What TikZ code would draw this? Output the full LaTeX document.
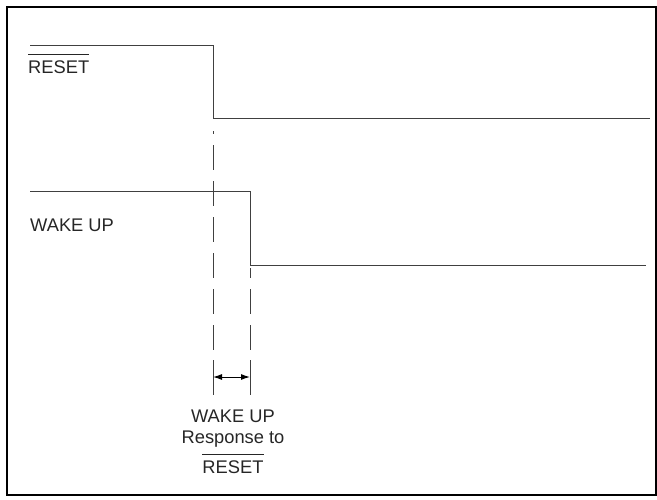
\documentclass[tikz,border=0pt]{standalone}
\usepackage{fontspec}
\setmainfont{Liberation Sans}
\usetikzlibrary{arrows.meta}
\tikzstyle{frame} = [line width=2pt, draw=black]
\tikzstyle{signal} = [line width=1pt, draw=black!75]
\tikzstyle{guide} = [line width=1pt, draw=black!75, dash pattern=on 25pt off 11pt]
\tikzstyle{extline} = [line width=1pt, draw=black!75]
\tikzstyle{siglabel} = [font=\fontsize{18.3}{21}\selectfont, inner sep=0pt, text=black!85]
\tikzstyle{arrow} = [line width=1pt, {Latex[length=9pt,width=6pt]}-{Latex[length=9pt,width=6pt]}]
\newcommand{\barred}[1]{\vbox{\hrule height 0.8pt\kern 5.5pt\hbox{#1}}}

\begin{document}
\begin{tikzpicture}[x=1pt, y=-1pt]

\useasboundingbox (0,0) rectangle (657,499);
\draw [frame] (7,7) rectangle (655.5,494.5);

% RESET
\coordinate (rst1) at (30,45);
\coordinate (rst2) at (213,45);
\coordinate (rst3) at (213,118);
\coordinate (rst4) at (650,118);
\draw [signal] (rst1) -- (rst2) -- (rst3) -- (rst4);
\node (rstlabel) [siglabel, anchor=base west] at (28,73) {\barred{RESET}};

% WAKE UP
\coordinate (wk1) at (30,191);
\coordinate (wk2) at (250,191);
\coordinate (wk3) at (250,265);
\coordinate (wk4) at (646,265);
\draw [signal] (wk1) -- (wk2) -- (wk3) -- (wk4);
\node (wklabel) [siglabel, anchor=base west] at (30,231) {WAKE UP};

% response time
\draw [guide, dash phase=22pt] (213,131) -- (213,350);
\draw [guide, dash phase=15pt] (250,268) -- (250,350);
\coordinate (dimA) at (213,377);
\coordinate (dimB) at (250,377);
\draw [extline] (213,360) -- (213,395);
\draw [extline] (250,360) -- (250,395);
\draw [arrow] (dimA) -- (dimB);
\node (resp) [siglabel, align=center, anchor=north] at (233,409.5)
  {WAKE UP\\Response to\\[6pt]\barred{RESET}};

\end{tikzpicture}
\end{document}
